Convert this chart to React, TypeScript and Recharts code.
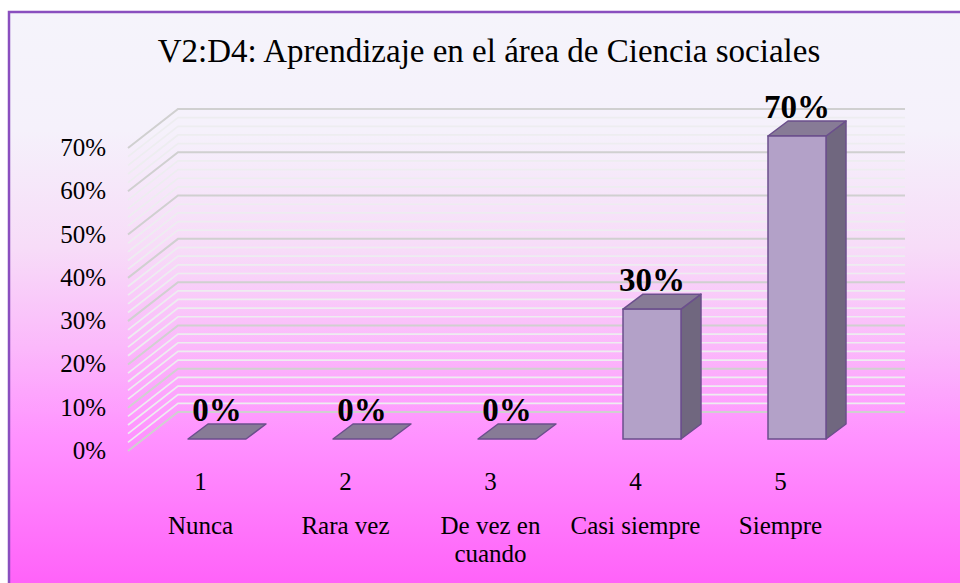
import React from 'react';
import { BarChart, Bar, XAxis, YAxis, CartesianGrid, LabelList } from 'recharts';

const title = 'V2:D4: Aprendizaje en el área de Ciencia sociales';
const categoryCodes = ['1', '2', '3', '4', '5'];
const categoryNames = ['Nunca', 'Rara vez', 'De vez en cuando', 'Casi siempre', 'Siempre'];
const percentages = [0, 0, 0, 30, 70];
const gridTicks = [0, 2, 4, 6, 8, 10, 12, 14, 16, 18, 20, 22, 24, 26, 28, 30, 32, 34, 36, 38, 40, 42, 44, 46, 48, 50, 52, 54, 56, 58, 60, 62, 64, 66, 68, 70];
const labelTicks = [0, 10, 20, 30, 40, 50, 60, 70];

const data = categoryCodes.map((code, i) => ({ code, name: categoryNames[i], value: percentages[i] }));

const W = 960;
const H = 583;
const FONT = '"Liberation Serif", "Times New Roman", serif';
const DX = 20;
const DY = 15;

function wrap(text: string, max: number): string[] {
  const words = text.split(' ');
  const lines: string[] = [];
  let cur = '';
  for (const w of words) {
    const next = cur ? cur + ' ' + w : w;
    if (next.length > max && cur) {
      lines.push(cur);
      cur = w;
    } else {
      cur = next;
    }
  }
  if (cur) lines.push(cur);
  return lines;
}

const Bar3D = (props: any) => {
  const { x, y, width, height } = props;
  const h = Math.max(0, height || 0);
  const stroke = '#6b4f8c';
  const top = `${x},${y} ${x + DX},${y - DY} ${x + width + DX},${y - DY} ${x + width},${y}`;
  if (h < 0.5) {
    return (
      <g>
        <polygon points={top} fill="#877b96" stroke={stroke} strokeWidth={1.5} strokeLinejoin="round" />
      </g>
    );
  }
  const side = `${x + width},${y} ${x + width + DX},${y - DY} ${x + width + DX},${y + h - DY} ${x + width},${y + h}`;
  return (
    <g>
      <polygon points={side} fill="#70677f" stroke={stroke} strokeWidth={1.5} strokeLinejoin="round" />
      <polygon points={top} fill="#877b96" stroke={stroke} strokeWidth={1.5} strokeLinejoin="round" />
      <rect x={x} y={y} width={width} height={h} fill="#b3a1c8" stroke={stroke} strokeWidth={1.5} />
    </g>
  );
};

const gridLine = (props: any) => {
  const { x1, x2, y1, index } = props;
  const major = index % 5 === 0;
  const pts = `${x1},${y1 + 12} ${x1 + 50},${y1 - 27} ${x2},${y1 - 27}`;
  return (
    <polyline
      key={`gl-${index}`}
      points={pts}
      fill="none"
      stroke={major ? '#d0d0d0' : '#ededf0'}
      strokeWidth={major ? 2 : 1.7}
    />
  );
};

const YTick = (props: any) => {
  const { x, y, payload } = props;
  const v = payload.value;
  if (!labelTicks.includes(v)) return <g />;
  return (
    <text x={x - 22} y={y + 20} textAnchor="end" fontFamily={FONT} fontSize={25} fill="#000">
      {`${v}%`}
    </text>
  );
};

const XTick = (props: any) => {
  const { x, y, payload, index } = props;
  const i = typeof index === 'number' ? index : categoryCodes.indexOf(payload.value);
  const lines = wrap(categoryNames[i] || '', 12);
  const cx = x - 16;
  return (
    <g>
      <text x={cx} y={y + 51} textAnchor="middle" fontFamily={FONT} fontSize={25} fill="#000">
        {payload.value}
      </text>
      {lines.map((l, k) => (
        <text key={k} x={cx} y={y + 95 + k * 28} textAnchor="middle" fontFamily={FONT} fontSize={25} fill="#000">
          {l}
        </text>
      ))}
    </g>
  );
};

const BarLabel = (props: any) => {
  const { x, y, width, value } = props;
  return (
    <text x={x + width / 2} y={y - 18} textAnchor="middle" fontFamily={FONT} fontSize={33} fontWeight="bold" fill="#000">
      {`${value}%`}
    </text>
  );
};

export default function App() {
  return (
    <div style={{ position: 'absolute', left: 0, top: 0, width: W, height: H, overflow: 'hidden' }}>
      <svg width={W} height={H} style={{ position: 'absolute', left: 0, top: 0 }}>
        <defs>
          <linearGradient id="bgGrad" x1="0" y1="0" x2="0" y2="1">
            <stop offset="0" stopColor="#f5f4fb" />
            <stop offset="0.2" stopColor="#f5f1fb" />
            <stop offset="0.4" stopColor="#f7dcf8" />
            <stop offset="0.57" stopColor="#fbb8fb" />
            <stop offset="0.72" stopColor="#ff92ff" />
            <stop offset="1" stopColor="#ff5cf8" />
          </linearGradient>
        </defs>
        <rect x={9} y={12} width={980} height={590} fill="url(#bgGrad)" stroke="#8a4fbf" strokeWidth={2.5} />
        <text x={489} y={62} textAnchor="middle" fontFamily={FONT} fontSize={33} fill="#000">
          {title}
        </text>
      </svg>
      <div style={{ position: 'absolute', left: 0, top: 0 }}>
        <BarChart width={W} height={H} data={data} margin={{ top: 136, right: 55, bottom: 114, left: 68 }}>
          <CartesianGrid vertical={false} horizontal={gridLine} />
          <YAxis
            type="number"
            domain={[0, 70]}
            ticks={gridTicks}
            interval={0}
            width={60}
            axisLine={false}
            tickLine={false}
            tickSize={0}
            tickMargin={0}
            tick={YTick}
          />
          <XAxis
            dataKey="code"
            height={30}
            padding={{ left: 16, right: 36 }}
            axisLine={false}
            tickLine={false}
            tickSize={0}
            tickMargin={0}
            interval={0}
            tick={XTick}
          />
          <Bar dataKey="value" barSize={58} isAnimationActive={false} shape={Bar3D}>
            <LabelList dataKey="value" content={BarLabel} />
          </Bar>
        </BarChart>
      </div>
    </div>
  );
}
